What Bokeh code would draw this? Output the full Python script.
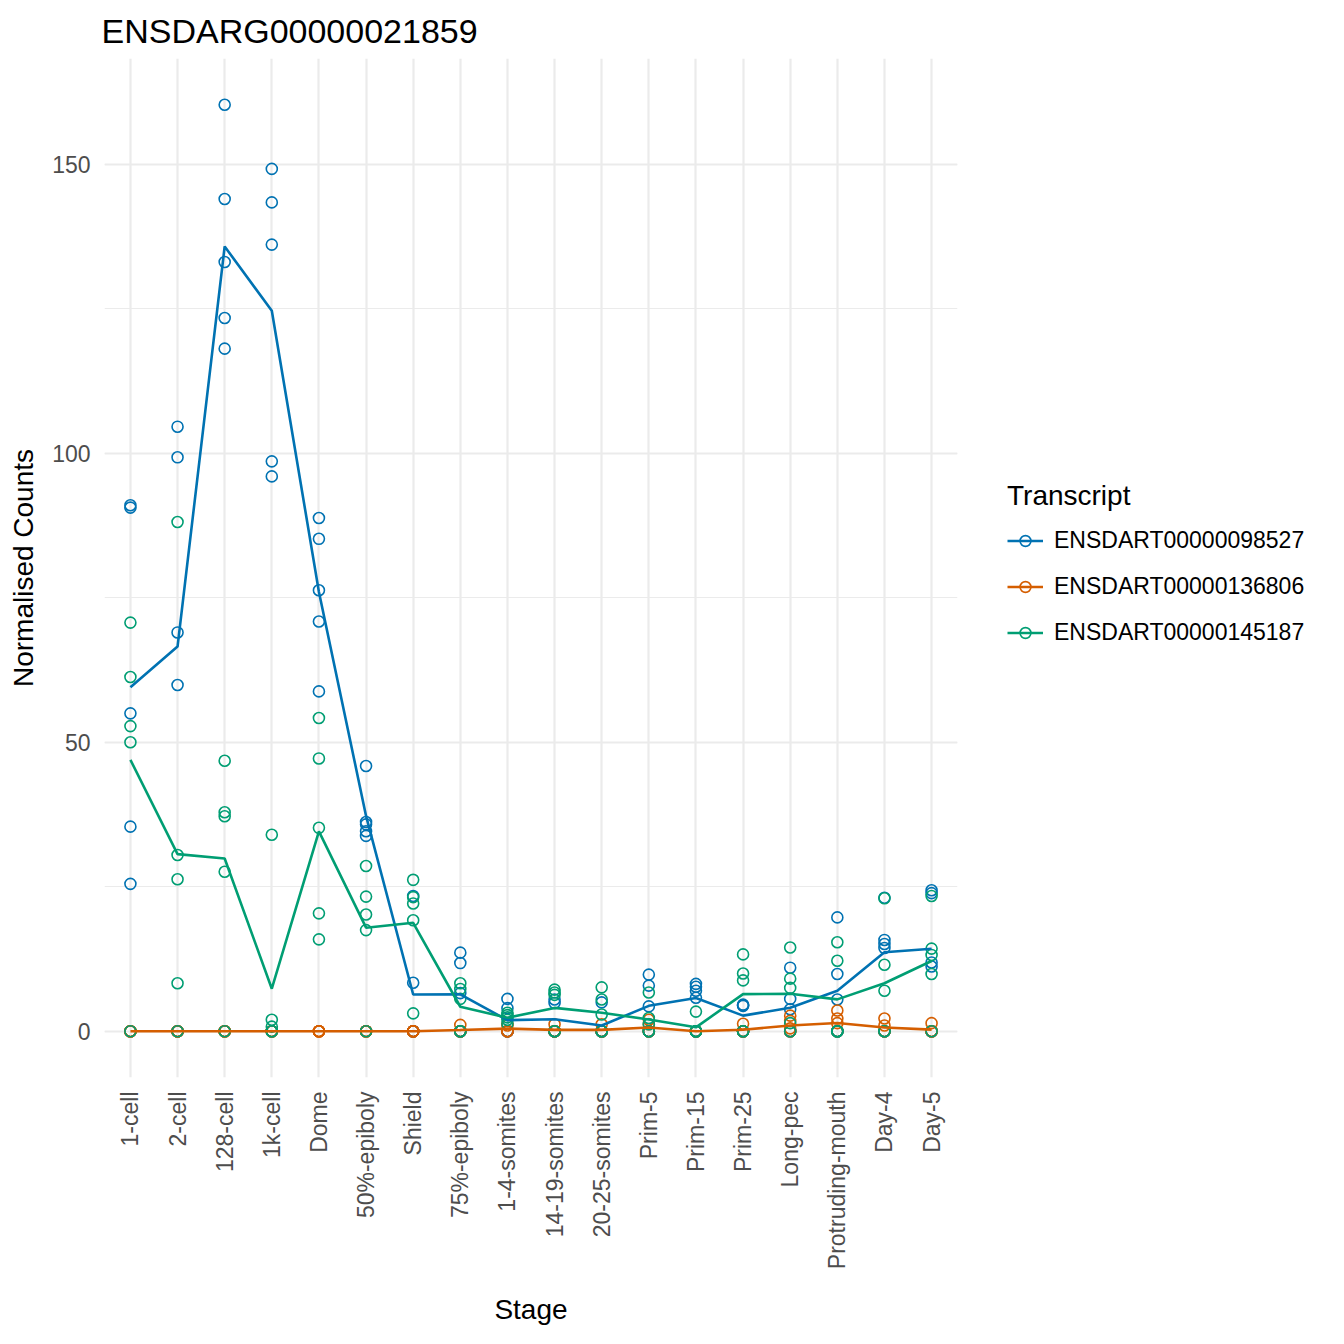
import math
import numpy as np
from bokeh.plotting import figure
from bokeh.layouts import row
from bokeh.models import FactorRange, Range1d, SingleIntervalTicker, Legend, LegendItem, ColumnDataSource
from bokeh.embed import file_html
from bokeh.resources import INLINE

stages = ["1-cell", "2-cell", "128-cell", "1k-cell", "Dome", "50%-epiboly", "Shield",
          "75%-epiboly", "1-4-somites", "14-19-somites", "20-25-somites", "Prim-5",
          "Prim-15", "Prim-25", "Long-pec", "Protruding-mouth", "Day-4", "Day-5"]

transcripts = ["ENSDART00000098527", "ENSDART00000136806", "ENSDART00000145187"]
colors = ["#0072B2", "#D55E00", "#009E73"]

# five replicate normalised counts per stage
counts_098527 = [
    [91.0, 90.6, 55.0, 35.4, 25.5],
    [104.6, 99.3, 69.0, 59.9, 0.0],
    [160.3, 144.0, 133.1, 123.4, 118.1],
    [149.2, 143.4, 136.1, 98.6, 96.0],
    [88.8, 85.2, 76.3, 70.9, 58.8],
    [45.9, 36.2, 35.8, 34.6, 33.8],
    [23.4, 8.4, 0.0, 0.0, 0.0],
    [13.6, 11.8, 6.6, 0.0, 0.0],
    [5.6, 4.0, 0.0, 0.0, 0.0],
    [5.5, 4.9, 0.0, 0.0, 0.0],
    [5.0, 0.0, 0.0, 0.0, 0.0],
    [9.8, 7.9, 4.3, 0.0, 0.0],
    [8.2, 7.7, 7.0, 5.8, 0.0],
    [4.6, 4.5, 4.4, 0.0, 0.0],
    [11.0, 5.6, 3.8, 0.0, 0.0],
    [19.7, 9.9, 5.5, 0.0, 0.0],
    [23.1, 15.8, 15.1, 14.4, 0.0],
    [24.4, 23.9, 11.9, 11.2, 0.0],
]

counts_136806 = [
    [0.0, 0.0, 0.0, 0.0, 0.0],
    [0.0, 0.0, 0.0, 0.0, 0.0],
    [0.0, 0.0, 0.0, 0.0, 0.0],
    [0.0, 0.0, 0.0, 0.0, 0.0],
    [0.0, 0.0, 0.0, 0.0, 0.0],
    [0.0, 0.0, 0.0, 0.0, 0.0],
    [0.0, 0.0, 0.0, 0.0, 0.0],
    [1.1, 0.0, 0.0, 0.0, 0.0],
    [1.3, 1.0, 0.0, 0.0, 0.0],
    [1.2, 0.0, 0.0, 0.0, 0.0],
    [1.2, 0.0, 0.0, 0.0, 0.0],
    [2.0, 1.2, 0.0, 0.0, 0.0],
    [0.0, 0.0, 0.0, 0.0, 0.0],
    [1.3, 0.0, 0.0, 0.0, 0.0],
    [2.7, 1.8, 0.5, 0.0, 0.0],
    [3.6, 2.2, 1.4, 0.0, 0.0],
    [2.2, 1.0, 0.0, 0.0, 0.0],
    [1.4, 0.0, 0.0, 0.0, 0.0],
]

counts_145187 = [
    [70.7, 61.3, 52.8, 50.0, 0.0],
    [88.1, 30.5, 26.3, 8.3, 0.0],
    [46.8, 37.9, 37.2, 27.6, 0.0],
    [34.0, 2.0, 0.8, 0.0, 0.0],
    [54.2, 47.2, 35.2, 20.4, 15.9],
    [28.6, 23.3, 20.2, 17.5, 0.0],
    [26.2, 23.2, 22.1, 19.2, 3.1],
    [8.3, 7.3, 5.6, 0.0, 0.0],
    [3.2, 2.8, 2.4, 2.0, 1.3],
    [7.2, 6.7, 6.3, 0.0, 0.0],
    [7.6, 5.5, 2.9, 0.0, 0.0],
    [6.7, 2.3, 1.2, 0.0, 0.0],
    [3.4, 0.0, 0.0, 0.0, 0.0],
    [13.3, 10.0, 8.8, 0.0, 0.0],
    [14.5, 9.1, 7.5, 1.4, 0.0],
    [15.4, 12.2, 0.0, 0.0, 0.0],
    [23.0, 11.5, 7.0, 0.0, 0.0],
    [23.4, 14.3, 13.2, 9.9, 0.0],
]

all_counts = [counts_098527, counts_136806, counts_145187]

FONT = "Liberation Sans"
MAIN_W = 960
TOTAL_W = 1328
H = 1328

p = figure(width=MAIN_W, height=H,
           x_range=FactorRange(factors=stages, range_padding=0.1 / 18),
           y_range=Range1d(-8.0, 168.3),
           output_backend="svg", toolbar_location=None,
           min_border_left=104, min_border_right=3,
           min_border_top=58, min_border_bottom=247,
           title="ENSDARG00000021859")

p.outline_line_color = None
p.background_fill_color = "white"
p.border_fill_color = "white"

p.title.text_font = FONT
p.title.text_font_size = "34px"
p.title.text_font_style = "normal"
p.title.text_color = "black"
p.title.align = "left"
p.title.offset = -3
p.title.standoff = 17

# grids
p.xgrid.grid_line_color = "#EBEBEB"
p.xgrid.grid_line_width = 2.2
p.ygrid.grid_line_color = "#EBEBEB"
p.ygrid.grid_line_width = 2.2
p.ygrid.minor_grid_line_color = "#EBEBEB"
p.ygrid.minor_grid_line_width = 1.1

p.yaxis.ticker = SingleIntervalTicker(interval=50, num_minor_ticks=2)
p.ygrid.ticker = p.yaxis.ticker

for ax in (p.xaxis, p.yaxis):
    ax.axis_line_color = None
    ax.major_tick_line_color = None
    ax.minor_tick_line_color = None
    ax.major_tick_out = 0
    ax.major_tick_in = 0
    ax.minor_tick_out = 0
    ax.minor_tick_in = 0
    ax.major_label_text_font = FONT
    ax.major_label_text_font_size = "23px"
    ax.major_label_text_color = "#4D4D4D"
    ax.axis_label_text_font = FONT
    ax.axis_label_text_font_size = "28px"
    ax.axis_label_text_font_style = "normal"
    ax.axis_label_text_color = "black"

p.xaxis.axis_label = "Stage"
p.yaxis.axis_label = "Normalised Counts"
p.xaxis.major_label_orientation = math.pi / 2
p.xaxis.major_label_standoff = 14
p.yaxis.major_label_standoff = 14
p.xaxis.axis_label_standoff = 22
p.yaxis.axis_label_standoff = 10

for name, col, cnts in zip(transcripts, colors, all_counts):
    xs = [s for s, vals in zip(stages, cnts) for _ in vals]
    ys = [v for vals in cnts for v in vals]
    src = ColumnDataSource(dict(x=xs, y=ys))
    p.scatter("x", "y", source=src, marker="circle", size=11,
              fill_color=None, line_color=col, line_width=1.6)

for name, col, cnts in zip(transcripts, colors, all_counts):
    means = [float(np.mean(vals)) for vals in cnts]
    src = ColumnDataSource(dict(x=stages, y=means))
    p.line("x", "y", source=src, line_color=col, line_width=2.6)

# legend panel: a separate blank figure to the right of the plot panel.
# Its key renderers hold one placeholder point lying outside its visible range,
# so only the legend swatches are drawn.
lg = figure(width=TOTAL_W - MAIN_W, height=H, x_range=Range1d(0, 1), y_range=Range1d(0, 1),
            output_backend="svg", toolbar_location=None,
            min_border_left=0, min_border_right=0, min_border_top=0, min_border_bottom=0)
lg.axis.visible = False
lg.grid.visible = False
lg.outline_line_color = None
lg.background_fill_color = "white"
lg.border_fill_color = "white"

items = []
for name, col in zip(transcripts, colors):
    placeholder = ColumnDataSource(dict(x=[-5.0, -4.0], y=[-5.0, -5.0]))
    lr = lg.line("x", "y", source=placeholder, line_color=col, line_width=2.6)
    sr = lg.scatter("x", "y", source=placeholder, marker="circle", size=11,
                    fill_color=None, line_color=col, line_width=1.6)
    items.append(LegendItem(label=name, renderers=[lr, sr]))

legend = Legend(items=items, location=(47, 431), title="Transcript",
                title_text_font=FONT, title_text_font_size="28px",
                title_text_font_style="normal", title_text_color="black",
                title_standoff=15,
                label_text_font=FONT, label_text_font_size="23px",
                label_text_color="black",
                glyph_width=36, glyph_height=27, label_height=27,
                label_standoff=11, spacing=19, padding=0, margin=0,
                border_line_color=None, background_fill_alpha=0)
lg.add_layout(legend)

layout = row(p, lg)
open("out.html", "w").write(file_html(layout, INLINE))
